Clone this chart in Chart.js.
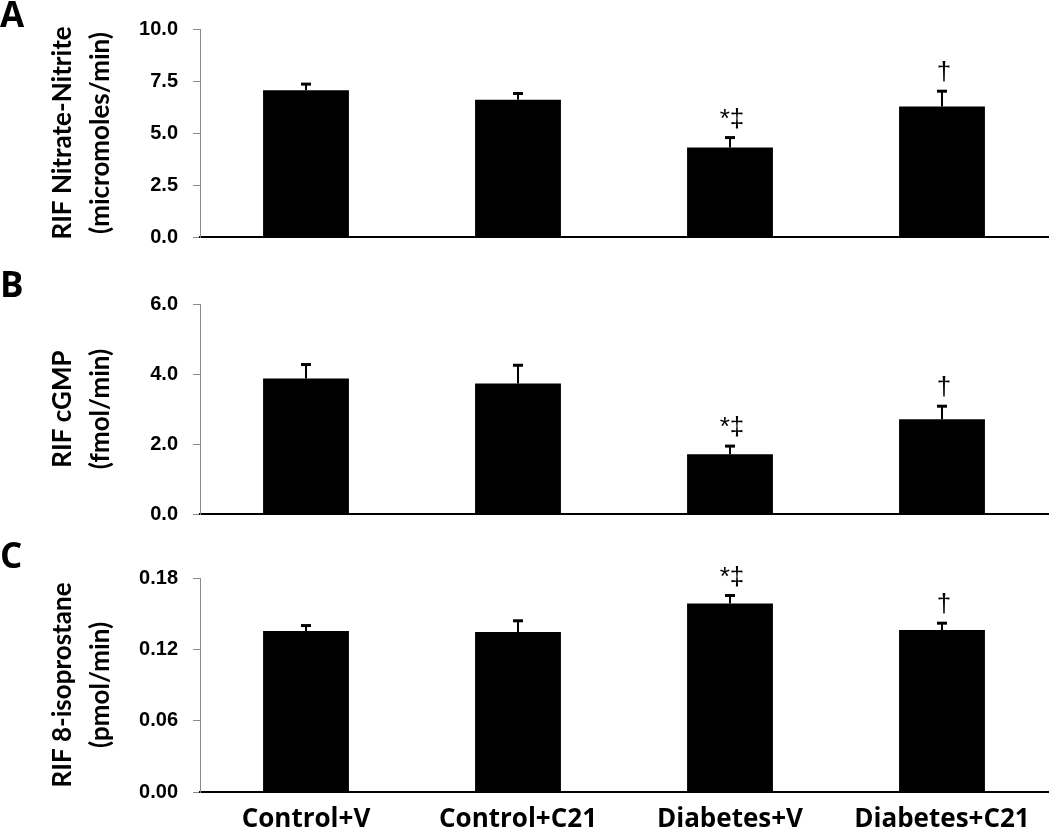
<!DOCTYPE html>
<html>
<head>
<meta charset="utf-8">
<script src="https://cdn.jsdelivr.net/npm/chart.js@4.4.1/dist/chart.umd.min.js"></script>
<style>
  body { margin: 0; background: #fff; width: 1050px; height: 829px; overflow: hidden; position: relative; }
  .panel { position: absolute; left: 0; width: 1050px; }
  .tag { position: absolute; left: 0px; font: bold 35px "Open Sans"; line-height: 1; color: #000; }
</style>
</head>
<body>
<div class="panel" style="top:0;height:260px"><canvas id="chartA"></canvas></div>
<div class="panel" style="top:270px;height:260px"><canvas id="chartB"></canvas></div>
<div class="panel" style="top:540px;height:289px"><canvas id="chartC"></canvas></div>
<div class="tag" style="top:-4px">A</div>
<div class="tag" style="top:266px">B</div>
<div class="tag" style="top:537px">C</div>

<script>
// groups on the x axis
var groups = ["Control+V", "Control+C21", "Diabetes+V", "Diabetes+C21"];
// significance marks above the bars (same in all three panels)
var marks = ["", "", "*\u2021", "\u2020"];

// A: nitrate-nitrite
var nitrate = [7.05, 6.6, 4.3, 6.27];
var nitrateErr = [0.3, 0.3, 0.48, 0.74];
// B: cGMP
var cgmp = [3.87, 3.73, 1.71, 2.71];
var cgmpErr = [0.4, 0.52, 0.23, 0.37];
// C: 8-isoprostane
var iso = [0.1355, 0.1345, 0.1585, 0.1362];
var isoErr = [0.0045, 0.0095, 0.0068, 0.0058];

// simple error bars (upper half only) + marks
var errorBars = {
  id: "errorBars",
  afterDatasetsDraw: function (chart) {
    var ctx = chart.ctx;
    var y = chart.scales.y;
    chart.data.datasets.forEach(function (ds, i) {
      chart.getDatasetMeta(i).data.forEach(function (bar, j) {
        var top = y.getPixelForValue(ds.data[j] + ds.errors[j]);
        ctx.save();
        ctx.strokeStyle = "#000";
        ctx.lineWidth = 2;
        ctx.beginPath();
        ctx.moveTo(bar.x, bar.y);
        ctx.lineTo(bar.x, top);
        ctx.stroke();
        ctx.lineWidth = 3;
        ctx.beginPath();
        ctx.moveTo(bar.x - 5, top);
        ctx.lineTo(bar.x + 5, top);
        ctx.stroke();
        if (ds.marks[j]) {
          ctx.fillStyle = "#000";
          ctx.font = "26px 'Liberation Sans'";
          ctx.textAlign = "center";
          ctx.textBaseline = "bottom";
          ctx.fillText(ds.marks[j], bar.x + 2, top - 5);
        }
        ctx.restore();
      });
    });
  }
};

function makePanel(id, values, errors, yMax, yStep, digits, title, padTop, xHeight, showLabels) {
  return new Chart(document.getElementById(id), {
    type: "bar",
    data: {
      labels: groups,
      datasets: [{
        data: values,
        errors: errors,
        marks: marks,
        backgroundColor: "#000",
        barPercentage: 0.405,
        categoryPercentage: 1
      }]
    },
    options: {
      responsive: true,
      maintainAspectRatio: false,
      animation: false,
      layout: { padding: { top: padTop, right: 2, left: 0, bottom: 0 } },
      plugins: { legend: { display: false }, tooltip: { enabled: false } },
      scales: {
        x: {
          grid: { display: false, drawTicks: false },
          border: { color: "#000", width: 2 },
          ticks: {
            display: showLabels,
            color: "#000",
            padding: showLabels ? 12 : 0,
            font: { family: "Open Sans", weight: "bold", size: 26 }
          },
          afterFit: function (s) { s.height = xHeight; }
        },
        y: {
          min: 0,
          max: yMax,
          grid: { drawOnChartArea: false, color: "#8a8a8a", tickLength: 7 },
          border: { color: "#8a8a8a", width: 1 },
          ticks: {
            stepSize: yStep,
            color: "#000",
            padding: 15,
            font: { family: "Liberation Sans", weight: "bold", size: 20 },
            callback: function (v) { return Number(v).toFixed(digits); }
          },
          title: {
            display: true,
            text: title,
            color: "#000",
            padding: { top: 44, bottom: 0 },
            font: { family: "Lato", weight: "bold", size: 26, lineHeight: 1.45 }
          },
          afterFit: function (s) {
            s.width = 200;
            // label padding should not push the plot area
            s.paddingTop = 10;
            s.paddingBottom = 10;
          }
        }
      }
    },
    plugins: [errorBars]
  });
}

makePanel("chartA", nitrate, nitrateErr, 10, 2.5, 1, ["RIF Nitrate-Nitrite", "(micromoles/min)"], 29, 23, false);
makePanel("chartB", cgmp, cgmpErr, 6, 2, 1, ["RIF cGMP", "(fmol/min)"], 34, 16, false);
makePanel("chartC", iso, isoErr, 0.18, 0.06, 2, ["RIF 8-isoprostane", "(pmol/min)"], 38, 37, true);
</script>
</body>
</html>
